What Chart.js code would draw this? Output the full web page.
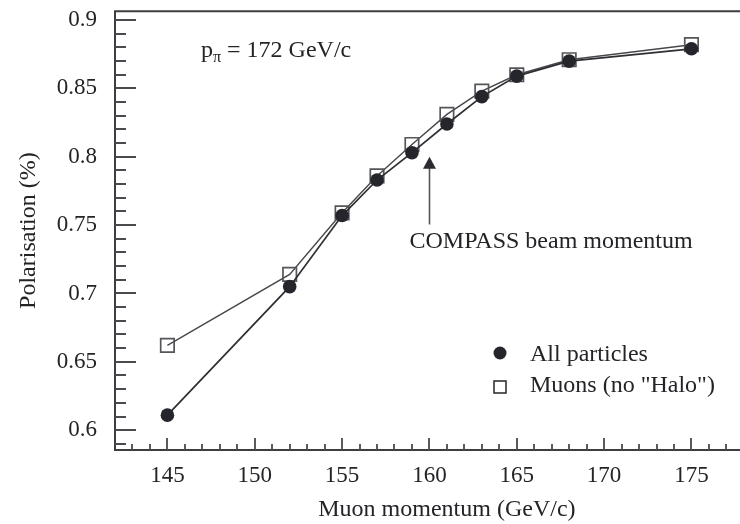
<!DOCTYPE html>
<html>
<head>
<meta charset="utf-8">
<script src="https://cdn.jsdelivr.net/npm/chart.js@4"></script>
<style>
  html, body { margin: 0; padding: 0; overflow: hidden; background: #fff; }
  canvas { display: block; }
</style>
</head>
<body>
<canvas id="polarisation" width="790" height="524"></canvas>
<script>
// Muon momentum (GeV/c) at which the beam polarisation was evaluated
const momenta = [145, 152, 155, 157, 159, 161, 163, 165, 168, 175];
// Polarisation for all beam particles
const allParticles = [0.611, 0.705, 0.757, 0.783, 0.803, 0.824, 0.844, 0.859, 0.870, 0.879];
// Polarisation for muons only (halo removed)
const muonsNoHalo = [0.662, 0.714, 0.759, 0.786, 0.809, 0.831, 0.848, 0.860, 0.871, 0.882];

const xTickValues = [145, 150, 155, 160, 165, 170, 175];
const xTickLabels = ['145', '150', '155', '160', '165', '170', '175'];
const yTickValues = [0.6, 0.65, 0.7, 0.75, 0.8, 0.85, 0.9];
const yTickLabels = ['0.6', '0.65', '0.7', '0.75', '0.8', '0.85', '0.9'];

// Nominal COMPASS beam momentum, marked with an arrow
const beamMomentum = 160;
const arrowBottom = 0.7505;
const arrowTip = 0.80;

const SERIF = '"Liberation Serif", "Times New Roman", serif';
const INK = '#242428';
const TICK_SIZE = 23;
const TEXT_SIZE = 24;

// Box frame with inward-pointing major and minor tick marks
const framePlugin = {
  id: 'frame',
  beforeDatasetsDraw(chart) {
    const { ctx, chartArea: a, scales: { x, y } } = chart;
    ctx.save();
    ctx.strokeStyle = '#3e3e42';
    ctx.lineWidth = 2;
    ctx.beginPath();
    ctx.moveTo(a.right, a.top);
    ctx.lineTo(a.left, a.top);
    ctx.lineTo(a.left, a.bottom);
    ctx.lineTo(a.right, a.bottom);
    ctx.stroke();

    ctx.lineWidth = 1.8;
    ctx.strokeStyle = '#4a4a4e';
    ctx.beginPath();
    for (let k = 59; k <= 90; k++) {
      const py = Math.round(y.getPixelForValue(k / 100));
      const len = k % 5 === 0 ? 21 : 11;
      ctx.moveTo(a.left, py);
      ctx.lineTo(a.left + len, py);
    }
    for (let k = 143; k <= 180; k++) {
      const px = Math.round(x.getPixelForValue(k));
      const len = k % 5 === 0 ? 12 : 6;
      ctx.moveTo(px, a.bottom);
      ctx.lineTo(px, a.bottom - len);
    }
    ctx.stroke();
    ctx.restore();
  },
  afterDatasetsDraw(chart) {
    const { ctx, scales: { x, y } } = chart;
    ctx.save();
    ctx.fillStyle = INK;
    ctx.textBaseline = 'alphabetic';
    ctx.textAlign = 'left';

    // Pion momentum annotation: p_pi = 172 GeV/c
    ctx.font = `${TEXT_SIZE}px ${SERIF}`;
    let tx = 201;
    ctx.fillText('p', tx, 57);
    tx += ctx.measureText('p').width;
    ctx.font = `16px ${SERIF}`;
    ctx.fillText('\u03C0', tx, 62);
    tx += ctx.measureText('\u03C0').width;
    ctx.font = `${TEXT_SIZE}px ${SERIF}`;
    ctx.fillText(' = 172 GeV/c', tx, 57);

    // Arrow pointing at the beam momentum
    const ax = Math.round(x.getPixelForValue(beamMomentum)) + 0.5;
    const yTip = y.getPixelForValue(arrowTip);
    const yEnd = y.getPixelForValue(arrowBottom);
    ctx.strokeStyle = '#55555a';
    ctx.lineWidth = 1.6;
    ctx.beginPath();
    ctx.moveTo(ax, yEnd);
    ctx.lineTo(ax, yTip + 10);
    ctx.stroke();
    ctx.fillStyle = '#2c2c30';
    ctx.beginPath();
    ctx.moveTo(ax, yTip);
    ctx.lineTo(ax - 6.5, yTip + 12);
    ctx.lineTo(ax + 6.5, yTip + 12);
    ctx.closePath();
    ctx.fill();

    ctx.fillStyle = INK;
    ctx.fillText('COMPASS beam momentum', ax - 20, 248);

    // Legend
    const lx = 500;
    ctx.fillStyle = '#25252c';
    ctx.beginPath();
    ctx.arc(lx, 353, 6.5, 0, Math.PI * 2);
    ctx.fill();
    ctx.strokeStyle = '#333338';
    ctx.lineWidth = 1.6;
    ctx.strokeRect(lx - 6, 381, 12, 12);
    ctx.fillStyle = INK;
    ctx.fillText('All particles', 530, 361);
    ctx.fillText('Muons (no "Halo")', 530, 392);
    ctx.restore();
  }
};

new Chart(document.getElementById('polarisation'), {
  type: 'line',
  data: {
    datasets: [
      {
        label: 'All particles',
        data: momenta.map((m, i) => ({ x: m, y: allParticles[i] })),
        borderColor: '#2e2e33',
        borderWidth: 1.7,
        pointStyle: 'circle',
        pointRadius: 6.8,
        pointBackgroundColor: '#25252c',
        pointBorderWidth: 0,
        tension: 0
      },
      {
        label: 'Muons (no "Halo")',
        data: momenta.map((m, i) => ({ x: m, y: muonsNoHalo[i] })),
        borderColor: '#47474c',
        borderWidth: 1.4,
        pointStyle: 'rect',
        pointRadius: 9.5,
        pointBackgroundColor: 'rgba(0,0,0,0)',
        pointBorderColor: '#55555a',
        pointBorderWidth: 1.7,
        tension: 0
      }
    ]
  },
  options: {
    responsive: false,
    animation: false,
    events: [],
    layout: { padding: { top: 8, right: 11, bottom: 0, left: 0 } },
    plugins: { legend: { display: false }, tooltip: { enabled: false } },
    scales: {
      x: {
        type: 'linear',
        min: 142,
        max: 180,
        grid: { display: false, drawTicks: false },
        border: { display: false },
        afterBuildTicks: s => { s.ticks = xTickValues.map(v => ({ value: v })); },
        afterFit: s => { s.height = 74; s.paddingLeft = 0; s.paddingRight = 0; },
        ticks: {
          padding: 12,
          maxRotation: 0,
          autoSkip: false,
          color: INK,
          font: { family: SERIF, size: TICK_SIZE },
          callback: (v, i) => xTickLabels[i]
        },
        title: {
          display: true,
          text: 'Muon momentum (GeV/c)',
          color: INK,
          font: { family: SERIF, size: TEXT_SIZE },
          padding: { top: 0, bottom: 0 }
        }
      },
      y: {
        min: 0.5855,
        max: 0.9065,
        grid: { display: false, drawTicks: false },
        border: { display: false },
        afterBuildTicks: s => { s.ticks = yTickValues.map(v => ({ value: v })); },
        afterFit: s => { s.width = 115; s.paddingTop = 0; s.paddingBottom = 0; },
        ticks: {
          padding: 18,
          autoSkip: false,
          color: INK,
          font: { family: SERIF, size: TICK_SIZE },
          callback: (v, i) => yTickLabels[i]
        },
        title: {
          display: true,
          text: 'Polarisation (%)',
          color: INK,
          font: { family: SERIF, size: TEXT_SIZE },
          padding: { top: 14, bottom: 0 }
        }
      }
    }
  },
  plugins: [framePlugin]
});
</script>
</body>
</html>
